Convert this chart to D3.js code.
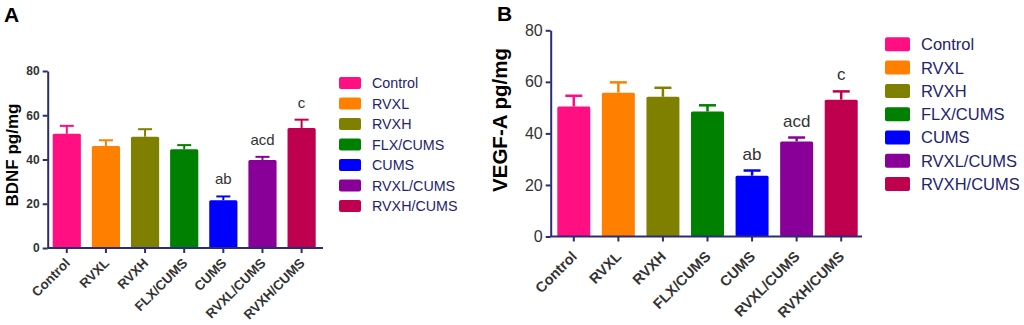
<!DOCTYPE html>
<html>
<head>
<meta charset="utf-8">
<script src="https://cdn.jsdelivr.net/npm/d3@7"></script>
<style>
  body { margin: 0; background: #fff; }
  svg { font-family: "Liberation Sans", Arial, sans-serif; }
</style>
</head>
<body>
<svg id="chart" width="1024" height="325"></svg>
<script>
"use strict";

// groups and colours (same for both panels)
const groups = ["Control", "RVXL", "RVXH", "FLX/CUMS", "CUMS", "RVXL/CUMS", "RVXH/CUMS"];
const colors = ["#ff0f82", "#ff8000", "#808000", "#008000", "#0000ff", "#880098", "#be004e"];

// panel A: BDNF
const bdnfMean = [51.6, 46.1, 50.3, 44.6, 21.6, 39.8, 54.2];
const bdnfErr  = [3.6, 2.6, 3.4, 1.9, 1.7, 1.4, 3.8];
const bdnfSig  = ["", "", "", "", "ab", "acd", "c"];

// panel B: VEGF-A
const vegfMean = [50.4, 55.8, 54.2, 48.5, 23.6, 36.9, 53.1];
const vegfErr  = [4.2, 4.0, 3.5, 2.4, 2.0, 1.5, 3.2];
const vegfSig  = ["", "", "", "", "ab", "acd", "c"];

const yTicks = [0, 20, 40, 60, 80];

const AXIS = "#2b2d74";
const TEXT = "#333";
const LEGEND_TEXT = "#23236e";

const svg = d3.select("#chart");

function drawPanel(opt) {
  const g = svg.append("g");

  const x = d3.scaleBand().domain(groups)
    .range([opt.barLeft, opt.barRight])
    .paddingInner(opt.padInner).paddingOuter(0);
  const y = d3.scaleLinear().domain([0, 80]).range([opt.bottom, opt.top]);

  // bars
  g.selectAll("rect.bar").data(groups).join("rect")
    .attr("class", "bar")
    .attr("x", (d) => x(d))
    .attr("y", (d, i) => y(opt.mean[i]))
    .attr("width", x.bandwidth())
    .attr("height", (d, i) => y(0) - y(opt.mean[i]))
    .attr("rx", 1.5)
    .attr("fill", (d, i) => colors[i]);

  // upper error bars
  const eb = g.selectAll("g.err").data(groups).join("g").attr("class", "err")
    .attr("stroke", (d, i) => colors[i])
    .attr("stroke-width", opt.errWidth);
  eb.append("line")
    .attr("x1", (d) => x(d) + x.bandwidth() / 2)
    .attr("x2", (d) => x(d) + x.bandwidth() / 2)
    .attr("y1", (d, i) => y(opt.mean[i]))
    .attr("y2", (d, i) => y(opt.mean[i] + opt.err[i]));
  eb.append("line")
    .attr("x1", (d) => x(d) + x.bandwidth() / 2 - opt.cap / 2)
    .attr("x2", (d) => x(d) + x.bandwidth() / 2 + opt.cap / 2)
    .attr("y1", (d, i) => y(opt.mean[i] + opt.err[i]))
    .attr("y2", (d, i) => y(opt.mean[i] + opt.err[i]));

  // significance letters
  g.selectAll("text.sig").data(groups).join("text")
    .attr("class", "sig")
    .attr("x", (d) => x(d) + x.bandwidth() / 2)
    .attr("y", (d, i) => y(opt.mean[i] + opt.err[i]) - opt.sigGap)
    .attr("text-anchor", "middle")
    .attr("font-size", opt.sigSize)
    .attr("fill", TEXT)
    .text((d, i) => opt.sig[i]);

  // y axis
  const yAxis = g.append("g")
    .attr("transform", `translate(${opt.left},0)`)
    .call(d3.axisLeft(y).tickValues(yTicks).tickSize(5).tickPadding(3).tickSizeOuter(0));
  yAxis.select(".domain").attr("stroke", AXIS).attr("stroke-width", 2);
  yAxis.selectAll(".tick line").attr("stroke", AXIS).attr("stroke-width", 2);
  yAxis.selectAll(".tick text")
    .attr("fill", TEXT)
    .attr("font-size", opt.tickSize)
    .attr("font-weight", opt.tickWeight)
    .attr("font-family", "Liberation Sans, Arial, sans-serif");

  // x axis
  const xAxis = g.append("g")
    .attr("transform", `translate(0,${opt.bottom})`);
  xAxis.append("line")
    .attr("x1", opt.left).attr("x2", opt.axisRight)
    .attr("stroke", AXIS).attr("stroke-width", 2);
  xAxis.selectAll("line.tk").data(groups).join("line")
    .attr("class", "tk")
    .attr("x1", (d) => x(d) + x.bandwidth() / 2)
    .attr("x2", (d) => x(d) + x.bandwidth() / 2)
    .attr("y1", 0).attr("y2", 5)
    .attr("stroke", AXIS).attr("stroke-width", 2);
  xAxis.selectAll("text").data(groups).join("text")
    .attr("transform", (d) => `translate(${x(d) + x.bandwidth() / 2 + opt.labDx},${opt.labDy}) rotate(-45)`)
    .attr("text-anchor", "end")
    .attr("font-size", opt.xLabSize)
    .attr("font-weight", "bold")
    .attr("fill", TEXT)
    .text((d) => d);

  // y title
  g.append("text")
    .attr("transform", `translate(${opt.titleX},${opt.titleY}) rotate(-90)`)
    .attr("text-anchor", "middle")
    .attr("font-size", opt.titleSize)
    .attr("font-weight", "bold")
    .attr("fill", "#000")
    .text(opt.title);

  // panel letter
  g.append("text")
    .attr("x", opt.letterX).attr("y", opt.letterY)
    .attr("font-size", 21)
    .attr("font-weight", "bold")
    .attr("fill", "#000")
    .text(opt.letter);

  // legend
  const leg = g.selectAll("g.leg").data(groups).join("g").attr("class", "leg")
    .attr("transform", (d, i) => `translate(${opt.legX},${opt.legY + i * opt.legStep})`);
  leg.append("rect")
    .attr("width", opt.swW).attr("height", opt.swH).attr("rx", 2)
    .attr("fill", (d, i) => colors[i]);
  leg.append("text")
    .attr("x", opt.legTextX)
    .attr("y", opt.swH / 2)
    .attr("dy", "0.36em")
    .attr("font-size", opt.legSize)
    .attr("fill", LEGEND_TEXT)
    .text((d) => d);
}

drawPanel({
  mean: bdnfMean, err: bdnfErr, sig: bdnfSig,
  title: "BDNF pg/mg", letter: "A",
  left: 47.7, axisRight: 323, top: 71, bottom: 248,
  barLeft: 52.7, barRight: 315.7, padInner: 0.28,
  errWidth: 2, cap: 14, sigGap: 12, sigSize: 15,
  tickSize: 12, tickWeight: "bold", xLabSize: 13.3, labDx: 4, labDy: 16,
  titleX: 18, titleY: 155, titleSize: 17,
  letterX: 4, letterY: 22,
  legX: 339, legY: 77, legStep: 20.5, swW: 22, swH: 12, legTextX: 33, legSize: 14.3
});

drawPanel({
  mean: vegfMean, err: vegfErr, sig: vegfSig,
  title: "VEGF-A pg/mg", letter: "B",
  left: 550.7, axisRight: 862, top: 30.3, bottom: 236.5,
  barLeft: 557.3, barRight: 857.7, padInner: 0.26,
  errWidth: 2.5, cap: 17, sigGap: 11, sigSize: 17,
  tickSize: 16, tickWeight: "normal", xLabSize: 14.5, labDx: 4, labDy: 21,
  titleX: 507, titleY: 120, titleSize: 20.5,
  letterX: 497, letterY: 21,
  legX: 885, legY: 37.3, legStep: 23.3, swW: 25, swH: 14, legTextX: 36, legSize: 16.5
});
</script>
</body>
</html>
